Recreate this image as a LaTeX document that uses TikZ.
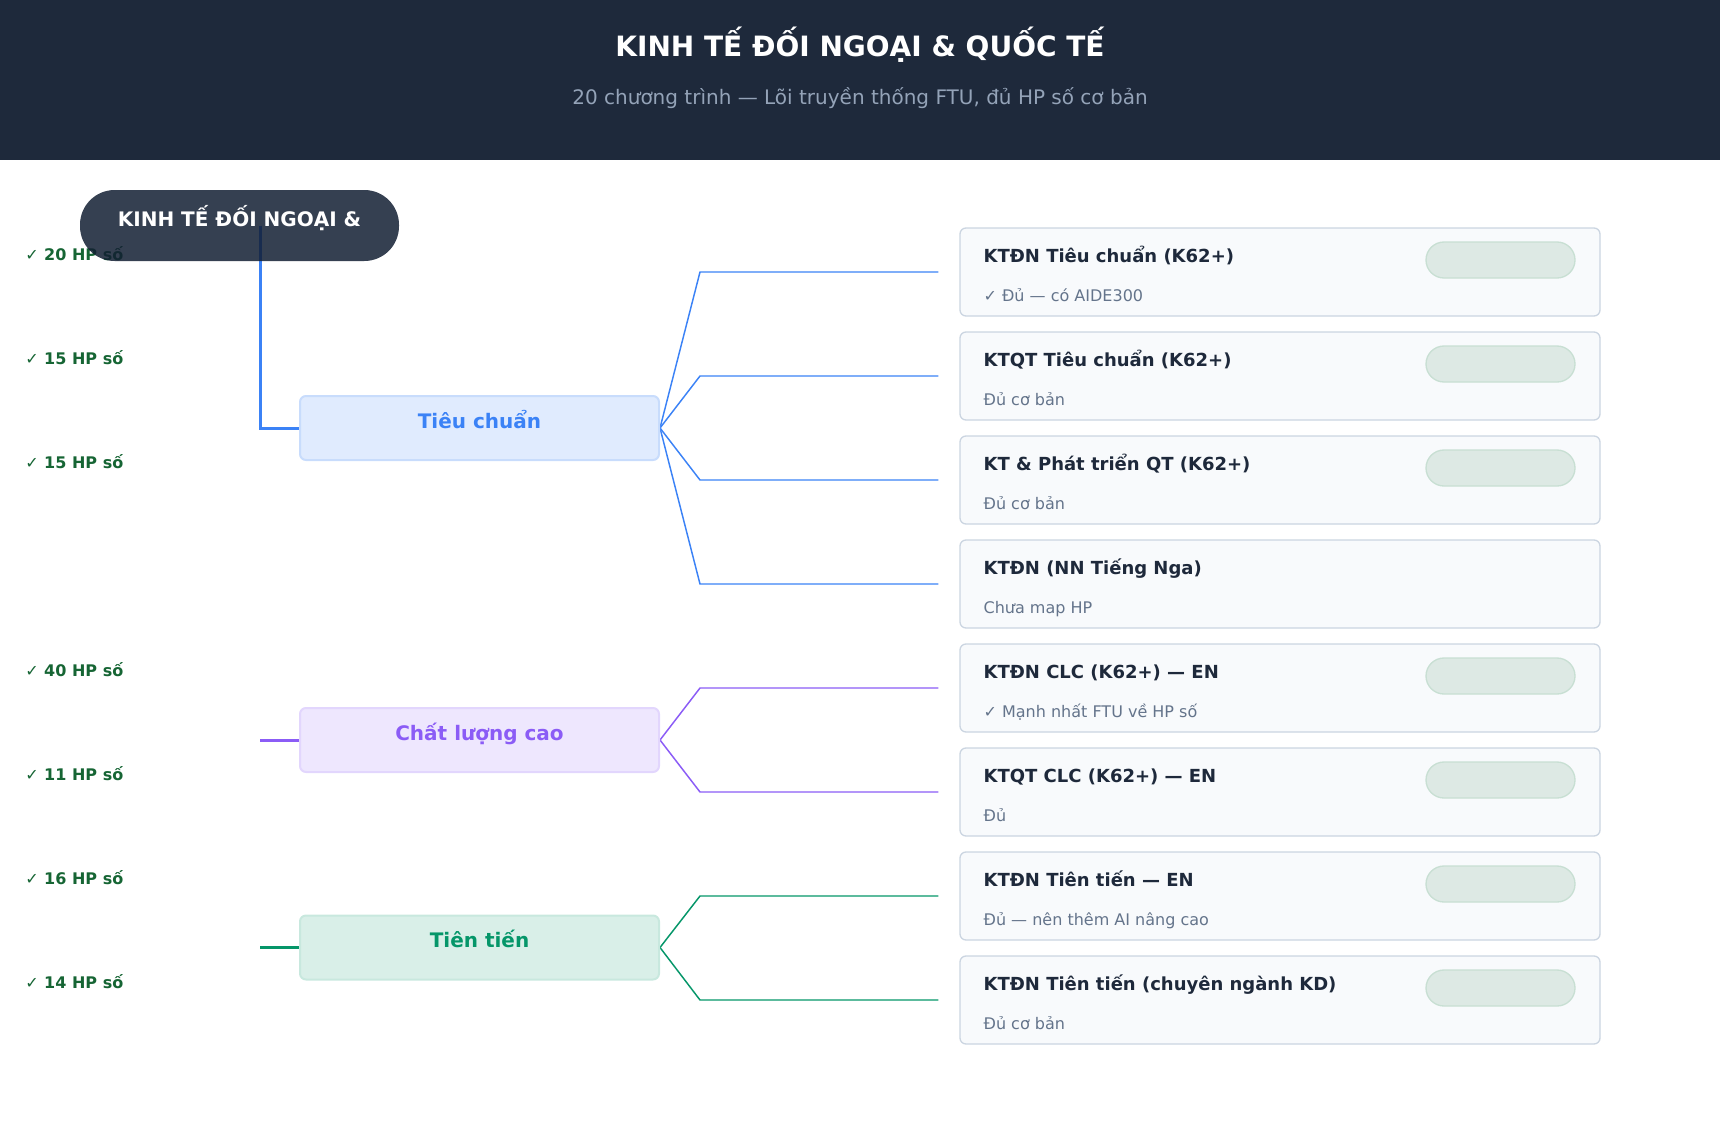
\documentclass[tikz,border=0pt]{standalone}
\usepackage{fontspec}
\setmainfont{DejaVu Sans}
\usepackage{xcolor}
\usetikzlibrary{positioning,backgrounds}

\definecolor{headbg}{HTML}{1E293B}
\definecolor{headsub}{HTML}{94A3B8}
\definecolor{rootbg}{HTML}{121E32}
\definecolor{tblue}{HTML}{3B82F6}
\definecolor{tpurple}{HTML}{8B5CF6}
\definecolor{tgreen}{HTML}{059669}
\definecolor{cardbg}{HTML}{F8FAFC}
\definecolor{cardline}{HTML}{CBD5E1}
\definecolor{cardtext}{HTML}{1E293B}
\definecolor{cardgrey}{HTML}{64748B}
\definecolor{hpgreen}{HTML}{166534}
\definecolor{badgebg}{HTML}{DDE9E4}
\definecolor{badgeline}{HTML}{C8DFD3}

\begin{document}
\begin{tikzpicture}[x=0.75pt, y=-0.75pt, node distance=11pt,
    card/.style={draw=cardline, line width=1pt, fill=cardbg, rounded corners=4.5pt, minimum width=480pt, minimum height=66pt, inner sep=0pt},
    cardtitle/.style={anchor=base west, xshift=18pt, yshift=-26pt, inner sep=0pt, text=cardtext, font=\bfseries\fontsize{13.5pt}{16pt}\selectfont},
    cardsub/.style={anchor=base west, xshift=18pt, yshift=11.45pt, inner sep=0pt, text=cardgrey, font=\fontsize{12pt}{14pt}\selectfont},
    badge/.style={draw=badgeline, line width=1pt, fill=badgebg, rounded corners=13.5pt, minimum width=111.75pt, minimum height=27pt, inner sep=0pt},
    group/.style={line width=1.5pt, rounded corners=4.5pt, minimum width=269.25pt, minimum height=48pt, text height=8pt, text depth=8pt, font=\bfseries\fontsize{15pt}{18pt}\selectfont},
    hp/.style={anchor=base west, inner sep=0pt, text=hpgreen, font=\bfseries\fontsize{12pt}{14pt}\selectfont},
    trunk/.style={line width=2.25pt},
    twig/.style={line width=1.1pt}]

    \useasboundingbox (0,0) rectangle (1720,1132);

    % header
    \fill[headbg] (0,0) rectangle (1720,160);
    \node (title) [anchor=base, text=white, font=\bfseries\fontsize{21pt}{25pt}\selectfont] at (860,56) {KINH TẾ ĐỐI NGOẠI \& QUỐC TẾ};
    \node (subtitle) [anchor=base, text=headsub, font=\fontsize{15pt}{18pt}\selectfont] at (860,104.5) {20 chương trình — Lõi truyền thống FTU, đủ HP số cơ bản};

    % HP counts
    \node (hp1) [hp] at (25,260.5) {✓ 20 HP số};
    \node (hp2) [hp] at (25,364.5) {✓ 15 HP số};
    \node (hp3) [hp] at (25,468.5) {✓ 15 HP số};
    \node (hp5) [hp] at (25,676.5) {✓ 40 HP số};
    \node (hp6) [hp] at (25,780.5) {✓ 11 HP số};
    \node (hp7) [hp] at (25,884.5) {✓ 16 HP số};
    \node (hp8) [hp] at (25,988.5) {✓ 14 HP số};

    % root
    \node (root) [fill=rootbg, fill opacity=0.85, text opacity=1, rounded corners=26pt, minimum width=239.25pt, minimum height=53.25pt, text=white, text height=10pt, text depth=8pt, font=\bfseries\fontsize{15pt}{18pt}\selectfont] at (239.5,225.5) {KINH TẾ ĐỐI NGOẠI \&};

    % groups
    \node (std) [group, fill=tblue!16, draw=tblue!28, text=tblue] at (479.5,428) {Tiêu chuẩn};
    \node (clc) [group, fill=tpurple!15, draw=tpurple!25, text=tpurple] at (479.5,740) {Chất lượng cao};
    \node (adv) [group, fill=tgreen!15, draw=tgreen!22, text=tgreen] at (479.5,947.5) {Tiên tiến};

    % programme cards
    \node (c1) [card] at (1280,272) {};
    \node (c2) [card, below=of c1] {};
    \node (c3) [card, below=of c2] {};
    \node (c4) [card, below=of c3] {};
    \node (c5) [card, below=of c4] {};
    \node (c6) [card, below=of c5] {};
    \node (c7) [card, below=of c6] {};
    \node (c8) [card, below=of c7] {};

    \node (c1t) [cardtitle] at (c1.north west) {KTĐN Tiêu chuẩn (K62+)};
    \node (c1s) [cardsub] at (c1.south west) {✓ Đủ — có AIDE300};
    \node (c2t) [cardtitle] at (c2.north west) {KTQT Tiêu chuẩn (K62+)};
    \node (c2s) [cardsub] at (c2.south west) {Đủ cơ bản};
    \node (c3t) [cardtitle] at (c3.north west) {KT \& Phát triển QT (K62+)};
    \node (c3s) [cardsub] at (c3.south west) {Đủ cơ bản};
    \node (c4t) [cardtitle] at (c4.north west) {KTĐN (NN Tiếng Nga)};
    \node (c4s) [cardsub] at (c4.south west) {Chưa map HP};
    \node (c5t) [cardtitle] at (c5.north west) {KTĐN CLC (K62+) — EN};
    \node (c5s) [cardsub] at (c5.south west) {✓ Mạnh nhất FTU về HP số};
    \node (c6t) [cardtitle] at (c6.north west) {KTQT CLC (K62+) — EN};
    \node (c6s) [cardsub] at (c6.south west) {Đủ};
    \node (c7t) [cardtitle] at (c7.north west) {KTĐN Tiên tiến — EN};
    \node (c7s) [cardsub] at (c7.south west) {Đủ — nên thêm AI nâng cao};
    \node (c8t) [cardtitle] at (c8.north west) {KTĐN Tiên tiến (chuyên ngành KD)};
    \node (c8s) [cardsub] at (c8.south west) {Đủ cơ bản};

    \node (b1) [badge, below left=10.5pt and 18.75pt of c1.north east] {};
    \node (b2) [badge, below left=10.5pt and 18.75pt of c2.north east] {};
    \node (b3) [badge, below left=10.5pt and 18.75pt of c3.north east] {};
    \node (b5) [badge, below left=10.5pt and 18.75pt of c5.north east] {};
    \node (b6) [badge, below left=10.5pt and 18.75pt of c6.north east] {};
    \node (b7) [badge, below left=10.5pt and 18.75pt of c7.north east] {};
    \node (b8) [badge, below left=10.5pt and 18.75pt of c8.north east] {};

    \begin{scope}[on background layer]
    \draw[trunk, tblue] (260,0 |- root.center) |- (std.west);
    \draw[trunk, tpurple] (260,0 |- clc.west) -- (clc.west);
    \draw[trunk, tgreen] (260,0 |- adv.west) -- (adv.west);

    \draw[twig, tblue] (std.east) -- (700,0 |- c1.west) -- ([xshift=-15.75pt]c1.west);
    \draw[twig, tblue] (std.east) -- (700,0 |- c2.west) -- ([xshift=-15.75pt]c2.west);
    \draw[twig, tblue] (std.east) -- (700,0 |- c3.west) -- ([xshift=-15.75pt]c3.west);
    \draw[twig, tblue] (std.east) -- (700,0 |- c4.west) -- ([xshift=-15.75pt]c4.west);
    \draw[twig, tpurple] (clc.east) -- (700,0 |- c5.west) -- ([xshift=-15.75pt]c5.west);
    \draw[twig, tpurple] (clc.east) -- (700,0 |- c6.west) -- ([xshift=-15.75pt]c6.west);
    \draw[twig, tgreen] (adv.east) -- (700,0 |- c7.west) -- ([xshift=-15.75pt]c7.west);
    \draw[twig, tgreen] (adv.east) -- (700,0 |- c8.west) -- ([xshift=-15.75pt]c8.west);
    \end{scope}
\end{tikzpicture}
\end{document}
